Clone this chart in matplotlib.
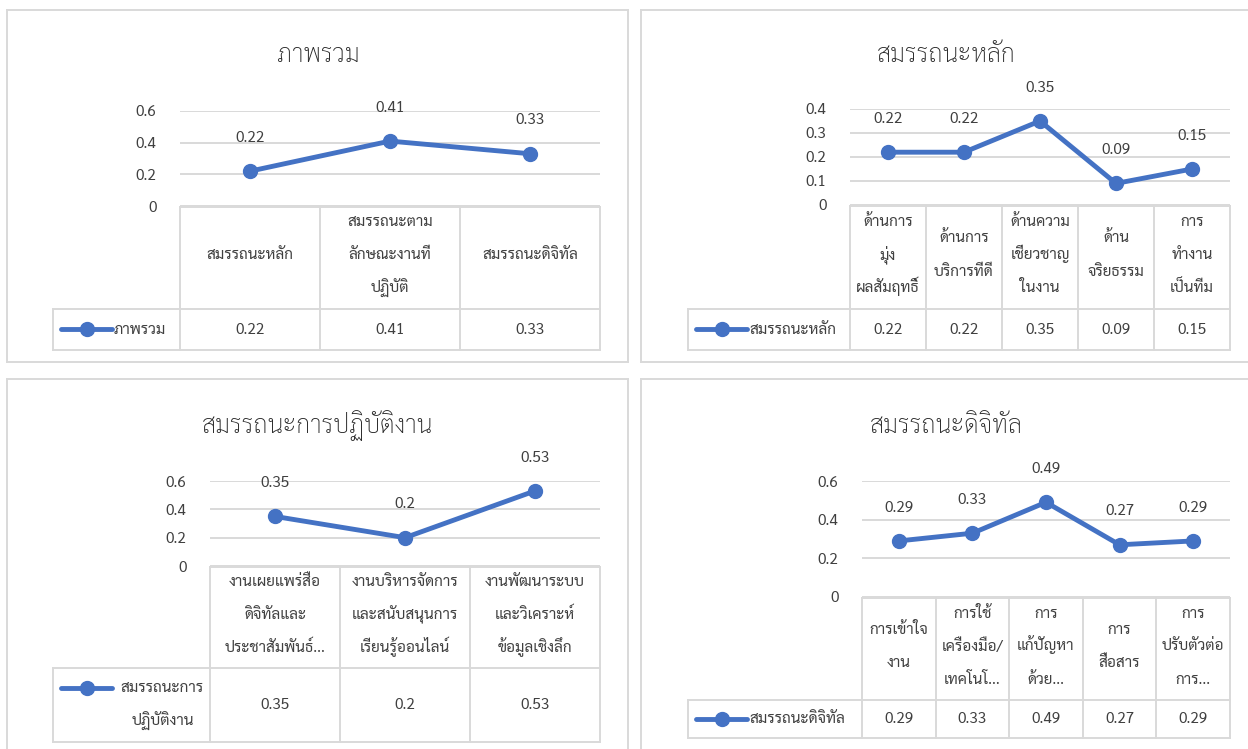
import matplotlib
matplotlib.use("Agg")
import matplotlib.pyplot as plt
from matplotlib.lines import Line2D

plt.rcParams['font.family'] = ['Sarabun', 'DejaVu Sans']

W, H = 1248, 749
BLUE = "#4472C4"
TEXT = "#404040"
EDGE = "#d9d9d9"
LINE_GAP = 33  # pixels between wrapped lines in table cells

# --- data -------------------------------------------------------------
overall_title = "ภาพรวม"
overall_cats = ["สมรรถนะหลัก", "สมรรถนะตาม\nลักษณะงานที่\nปฏิบัติ", "สมรรถนะดิจิทัล"]
overall_vals = [0.22, 0.41, 0.33]
overall_ticks = [0, 0.2, 0.4, 0.6]

core_title = "สมรรถนะหลัก"
core_cats = ["ด้านการ\nมุ่ง\nผลสัมฤทธิ์", "ด้านการ\nบริการที่ดี", "ด้านความ\nเชี่ยวชาญ\nในงาน",
             "ด้าน\nจริยธรรม", "การ\nทำงาน\nเป็นทีม"]
core_vals = [0.22, 0.22, 0.35, 0.09, 0.15]
core_ticks = [0, 0.1, 0.2, 0.3, 0.4]

work_title = "สมรรถนะการปฏิบัติงาน"
work_legend = "สมรรถนะการ\nปฏิบัติงาน"
work_cats = ["งานเผยแพร่สื่อ\nดิจิทัลและ\nประชาสัมพันธ์...", "งานบริหารจัดการ\nและสนับสนุนการ\nเรียนรู้ออนไลน์",
             "งานพัฒนาระบบ\nและวิเคราะห์\nข้อมูลเชิงลึก"]
work_vals = [0.35, 0.2, 0.53]
work_ticks = [0, 0.2, 0.4, 0.6]

digital_title = "สมรรถนะดิจิทัล"
digital_cats = ["การเข้าใจ\nงาน", "การใช้\nเครื่องมือ/\nเทคโนโ...", "การ\nแก้ปัญหา\nด้วย...",
                "การ\nสื่อสาร", "การ\nปรับตัวต่อ\nการ..."]
digital_vals = [0.29, 0.33, 0.49, 0.27, 0.29]
digital_ticks = [0, 0.2, 0.4, 0.6]

fig = plt.figure(figsize=(W / 100, H / 100), dpi=100)


def fx(x):
    return x / W


def fy(y):
    return 1 - y / H


def hline(x0, x1, y, color=EDGE, lw=1.4):
    fig.add_artist(Line2D([fx(x0), fx(x1)], [fy(y), fy(y)], color=color, lw=lw))


def vline(x, y0, y1, color=EDGE, lw=1.4):
    fig.add_artist(Line2D([fx(x), fx(x)], [fy(y0), fy(y1)], color=color, lw=lw))


def cell_text(x, y, s, ha="center"):
    # each wrapped line on its own baseline so the spacing stays even
    parts = s.split("\n")
    k = len(parts)
    for j, p in enumerate(parts):
        cy = y + (j - (k - 1) / 2) * LINE_GAP
        fig.text(fx(x), fy(cy + 4), p, ha=ha, va="baseline", fontsize=11, color=TEXT)


def panel(frame, title, title_xy, cats, vals, ticks, legend, x0, x1, yzero, ytop,
          mid, bottom, leg_left):
    fl, ft, fr, fb = frame
    hline(fl, fr, ft)
    hline(fl, fr, fb)
    vline(fl, ft, fb)
    vline(fr, ft, fb)

    fig.text(fx(title_xy[0]), fy(title_xy[1]), title, ha="center", va="center",
             fontsize=18, fontweight="light", color="#262626")

    # plot area for the line
    ax = fig.add_axes([fx(x0), fy(yzero), fx(x1) - fx(x0), fy(ytop) - fy(yzero)])
    n = len(vals)
    xs = list(range(n))
    ax.set_xlim(-0.5, n - 0.5)
    ax.set_ylim(0, ticks[-1])
    ax.set_yticks(ticks)
    ax.set_yticklabels([f"{t:g}" for t in ticks])
    ax.tick_params(axis="y", length=0, pad=17, labelsize=11, labelcolor=TEXT)
    ax.set_xticks([])
    for s in ax.spines.values():
        s.set_visible(False)
    ax.grid(axis="y", color=EDGE, lw=1.4)
    ax.set_axisbelow(True)
    ax.patch.set_alpha(0)
    ax.plot(xs, vals, color=BLUE, lw=3.5, marker="o", ms=10, clip_on=False,
            solid_capstyle="round")
    for x, v in zip(xs, vals):
        ax.annotate(f"{v:g}", (x, v), xytext=(0, 24), textcoords="offset points",
                    ha="center", va="center", fontsize=11, color=TEXT)

    # data table under the plot
    col_w = (x1 - x0) / n
    hline(x0, x1, yzero + 1)
    hline(leg_left, x1, mid)
    hline(leg_left, x1, bottom)
    vline(leg_left, mid, bottom)
    for i in range(n + 1):
        vline(x0 + i * col_w, yzero + 1, bottom)
    for i, (c, v) in enumerate(zip(cats, vals)):
        cxi = x0 + (i + 0.5) * col_w
        cell_text(cxi, (yzero + mid) / 2 - 2, c)
        cell_text(cxi, (mid + bottom) / 2, f"{v:g}")

    # legend key inside the table
    if "\n" in legend:
        ky = mid + 20
        cell_text((leg_left + 62 + x0) / 2, (mid + bottom) / 2, legend)
    else:
        ky = (mid + bottom) / 2
        cell_text(leg_left + 61, ky, legend, ha="left")
    fig.add_artist(Line2D([fx(leg_left + 8), fx(leg_left + 59)], [fy(ky), fy(ky)],
                          color=BLUE, lw=3.5, solid_capstyle="round"))
    fig.add_artist(Line2D([fx(leg_left + 34)], [fy(ky)], color=BLUE, marker="o", ms=10))


panel((7, 10, 628, 362), overall_title, (318, 56), overall_cats, overall_vals,
      overall_ticks, overall_title, 180, 600, 206, 111, 309, 350, 53)
panel((641, 10, 1262, 362), core_title, (946, 56), core_cats, core_vals,
      core_ticks, core_title, 850, 1230, 205, 109, 309, 350, 688)
panel((7, 379, 628, 760), work_title, (318, 426), work_cats, work_vals,
      work_ticks, work_legend, 210, 600, 566, 481, 668, 742, 53)
panel((641, 379, 1262, 760), digital_title, (946, 426), digital_cats, digital_vals,
      digital_ticks, digital_title, 862, 1230, 597, 481, 700, 738, 688)

fig.savefig("out.png", dpi=100)
